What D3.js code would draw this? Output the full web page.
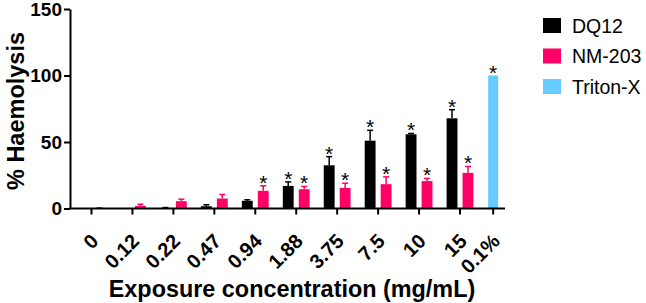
<!DOCTYPE html>
<html>
<head>
<meta charset="utf-8">
<script src="https://cdn.jsdelivr.net/npm/d3@7"></script>
<style>
  body { margin: 0; background: #fff; }
  text { font-family: "Liberation Sans", Arial, sans-serif; }
</style>
</head>
<body>
<div id="chart"></div>
<script>
// Chart data
const concentrations = ["0", "0.12", "0.22", "0.47", "0.94", "1.88", "3.75", "7.5", "10", "15"];
const controlLabel = "0.1%";
const dq12Mean = [0, 0, 0.4, 1.7, 5.8, 17, 32.5, 51, 55.8, 67.8];
const dq12Err = [0, 0, 0.3, 1.1, 0.8, 3, 6.5, 7.8, 0.6, 6.5];
const dq12Star = [false, false, false, false, false, true, true, true, true, true];
const nmMean = [0.3, 2, 5.5, 7.5, 13.3, 14.5, 15.5, 18.3, 20.6, 26.8];
const nmErr = [0.2, 1.2, 1.5, 3, 3.8, 2.1, 3.5, 5.5, 2, 4.8];
const nmStar = [false, false, false, false, true, true, true, true, true, true];
const tritonMean = 100;
const seriesNames = ["DQ12", "NM-203", "Triton-X"];
const seriesColors = ["#000000", "#ff0066", "#66ccff"];
const yTicks = [0, 50, 100, 150];

const width = 646;
const height = 303;

const svg = d3.select("#chart")
    .append("svg")
    .attr("width", width)
    .attr("height", height);

// Scales
const y = d3.scaleLinear().domain([0, 150]).range([208.5, 9]);

// concentration groups evenly spaced, control group sits a bit closer
const x = d3.scalePoint()
    .domain(concentrations)
    .range([91.5, 460]);
const step = x.step();
const xAll = c => c === controlLabel ? x("15") + step * 0.81 : x(c);

const xSub = d3.scaleBand()
    .domain(["DQ12", "NM-203"])
    .range([-13.4, 13.4])
    .paddingInner(0.32);

const color = d3.scaleOrdinal().domain(seriesNames).range(seriesColors);

// Build rows for the bars
const rows = [];
concentrations.forEach((c, i) => {
    rows.push({ conc: c, series: "DQ12", v: dq12Mean[i], e: dq12Err[i], star: dq12Star[i] });
    rows.push({ conc: c, series: "NM-203", v: nmMean[i], e: nmErr[i], star: nmStar[i] });
});

const barG = svg.append("g");

barG.selectAll("rect.bar")
    .data(rows)
    .enter()
    .append("rect")
    .attr("class", "bar")
    .attr("x", d => xAll(d.conc) + xSub(d.series))
    .attr("width", xSub.bandwidth())
    .attr("y", d => y(d.v))
    .attr("height", d => y(0) - y(d.v))
    .attr("fill", d => color(d.series));

// Error bars (upper only)
const errG = barG.selectAll("g.err")
    .data(rows.filter(d => d.e > 0))
    .enter()
    .append("g")
    .attr("stroke", d => color(d.series))
    .attr("stroke-width", 1.5);

errG.append("line")
    .attr("x1", d => xAll(d.conc) + xSub(d.series) + xSub.bandwidth() / 2)
    .attr("x2", d => xAll(d.conc) + xSub(d.series) + xSub.bandwidth() / 2)
    .attr("y1", d => y(d.v))
    .attr("y2", d => y(d.v + d.e));

errG.append("line")
    .attr("x1", d => xAll(d.conc) + xSub(d.series) + xSub.bandwidth() / 2 - 3)
    .attr("x2", d => xAll(d.conc) + xSub(d.series) + xSub.bandwidth() / 2 + 3)
    .attr("y1", d => y(d.v + d.e))
    .attr("y2", d => y(d.v + d.e));

// Triton-X control bar
const tritonW = 10;
barG.append("rect")
    .attr("x", xAll(controlLabel) - tritonW / 2)
    .attr("width", tritonW)
    .attr("y", y(tritonMean))
    .attr("height", y(0) - y(tritonMean))
    .attr("fill", color("Triton-X"));

// Significance stars
const stars = rows.filter(d => d.star).map(d => ({
    x: xAll(d.conc) + xSub(d.series) + xSub.bandwidth() / 2,
    top: d.v + d.e
}));
stars.push({ x: xAll(controlLabel), top: tritonMean });

svg.selectAll("text.star")
    .data(stars)
    .enter()
    .append("text")
    .attr("class", "star")
    .attr("x", d => d.x)
    .attr("y", d => y(d.top) + 4)
    .attr("text-anchor", "middle")
    .style("font-size", "21px")
    .text("*");

// Y axis
const yAxis = svg.append("g")
    .attr("transform", "translate(70,0)")
    .call(d3.axisLeft(y).tickValues(yTicks).tickSize(6).tickPadding(2).tickSizeOuter(0));

yAxis.select(".domain").attr("stroke-width", 2);
yAxis.selectAll(".tick line").attr("stroke-width", 2);
yAxis.selectAll(".tick text")
    .style("font-size", "19px")
    .style("font-weight", "bold")
    .attr("fill", "#000");

// X axis
const xTickVals = concentrations.concat([controlLabel]);
const xAxisScale = d3.scaleOrdinal().domain(xTickVals).range(xTickVals.map(xAll));

const xAxis = svg.append("g")
    .attr("transform", `translate(0,${y(0)})`);

xAxis.append("line")
    .attr("x1", 69)
    .attr("x2", 505)
    .attr("stroke", "#000")
    .attr("stroke-width", 2);

const xt = xAxis.selectAll("g.xt")
    .data(xTickVals)
    .enter()
    .append("g")
    .attr("transform", d => `translate(${xAxisScale(d)},0)`);

xt.append("line")
    .attr("y1", 0)
    .attr("y2", 6)
    .attr("stroke", "#000")
    .attr("stroke-width", 2);

xt.append("text")
    .attr("transform", "translate(8,34) rotate(-45)")
    .attr("text-anchor", "end")
    .style("font-size", "20px")
    .style("font-weight", "bold")
    .text(d => d);

// Axis titles
svg.append("text")
    .attr("transform", "translate(23.5,111) rotate(-90)")
    .attr("text-anchor", "middle")
    .style("font-size", "23.5px")
    .style("font-weight", "bold")
    .text("% Haemolysis");

svg.append("text")
    .attr("x", 292)
    .attr("y", 297)
    .attr("text-anchor", "middle")
    .style("font-size", "23.4px")
    .style("font-weight", "bold")
    .text("Exposure concentration (mg/mL)");

// Legend
const legend = svg.append("g")
    .selectAll("g")
    .data(seriesNames)
    .enter()
    .append("g")
    .attr("transform", (d, i) => `translate(543,${18 + i * 30.5})`);

legend.append("rect")
    .attr("width", 18)
    .attr("height", 15)
    .attr("fill", d => color(d));

legend.append("text")
    .attr("x", 29)
    .attr("y", 14.5)
    .style("font-size", "19.5px")
    .text(d => d);
</script>
</body>
</html>
